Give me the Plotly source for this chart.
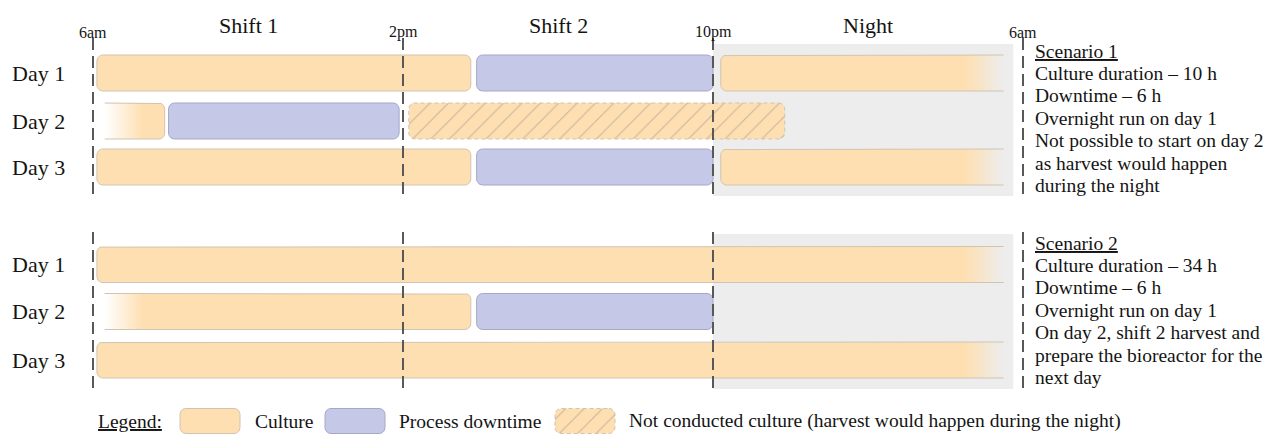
import numpy as np
import plotly.graph_objects as go

# ---------------- data (hours after 6am) ----------------
day_labels = ["Day 1", "Day 2", "Day 3"]
time_ticks = [0, 8, 16, 24]
time_tick_labels = ["6am", "2pm", "10pm", "6am"]
shift_names = ["Shift 1", "Shift 2", "Night"]
shift_centers = [4, 12, 20]
night_start = 16
night_end = 23.75

# Scenario 1 segments
s1_day = [1, 1, 1, 2, 2, 2, 3, 3, 3]
s1_kind = ["culture", "downtime", "culture", "culture", "downtime", "not", "culture", "downtime", "culture"]
s1_start = [0.1, 9.9, 16.2, 0.3, 1.95, 8.15, 0.1, 9.9, 16.2]
s1_end = [9.75, 16.0, 23.5, 1.85, 7.9, 17.85, 9.75, 16.0, 23.5]

# Scenario 2 segments
s2_day = [1, 2, 2, 3]
s2_kind = ["culture", "culture", "downtime", "culture"]
s2_start = [0.1, 0.3, 9.9, 0.1]
s2_end = [23.5, 9.75, 16.0, 23.5]

s1_notes = ["<u>Scenario 1</u>", "Culture duration \u2013 10 h", "Downtime \u2013 6 h",
            "Overnight run on day 1", "Not possible to start on day 2",
            "as harvest would happen", "during the night"]
s2_notes = ["<u>Scenario 2</u>", "Culture duration \u2013 34 h", "Downtime \u2013 6 h",
            "Overnight run on day 1", "On day 2, shift 2 harvest and",
            "prepare the bioreactor for the", "next day"]
legend_title = "<u>Legend:</u>"
legend_labels = ["Culture", "Process downtime",
                 "Not conducted culture (harvest would happen during the night)"]
legend_kinds = ["culture", "downtime", "not"]

# ---------------- styles / layout constants ----------------
s1_fade = [None, None, "right", "left", None, None, None, None, "right"]
s2_fade = ["right", "left", None, "right"]

W, H = 1279, 435
X0, PXH = 93.0, 38.75          # pixel of 6am, pixels per hour
FONT = "Liberation Serif"
BAR_H = 36
RAD = 6
FADE = 1.0
row_y = {1: [73, 121, 167], 2: [264.5, 311.5, 360]}
night_band = {1: (44, 196), 2: (234, 389)}
dash_span = {1: (38, 198), 2: (232, 392)}
notes_y0 = {1: 51, 2: 243}
NOTE_DY = 22.4
NOTE_X = 1033

CULT = "rgb(254,223,177)"
CULT_T = "rgba(254,223,177,0)"
CULT_EDGE = "rgb(208,196,178)"
DOWN = "rgb(197,200,230)"
DOWN_EDGE = "rgb(165,169,200)"
HATCH_FG = "rgb(200,182,156)"
NIGHT = "rgb(237,237,237)"
DASH = "rgb(88,88,88)"
TXT = "rgb(20,20,20)"

fig = go.Figure()


def arc(cx, cy, rx, ry, a0, a1, n=8):
    t = np.radians(np.linspace(a0, a1, n))
    return list(cx + rx * np.cos(t)), list(cy + ry * np.sin(t))


def rounded(x0, x1, yc, h, rx, ry, fade):
    yt, yb = yc - h / 2, yc + h / 2
    xs, ys = [], []

    def add(p):
        xs.extend(p[0]); ys.extend(p[1])
    if fade == "right":
        add(([x1], [yt]))
        add(arc(x0 + rx, yt + ry, rx, ry, 270, 180))
        add(arc(x0 + rx, yb - ry, rx, ry, 180, 90))
        add(([x1], [yb]))
    elif fade == "left":
        add(([x0], [yt]))
        add(arc(x1 - rx, yt + ry, rx, ry, 270, 360))
        add(arc(x1 - rx, yb - ry, rx, ry, 0, 90))
        add(([x0], [yb]))
    else:
        add(arc(x1 - rx, yt + ry, rx, ry, 270, 360))
        add(arc(x1 - rx, yb - ry, rx, ry, 0, 90))
        add(arc(x0 + rx, yb - ry, rx, ry, 90, 180))
        add(arc(x0 + rx, yt + ry, rx, ry, 180, 270))
        xs.append(xs[0]); ys.append(ys[0])
    return xs, ys


def bar_trace(x0, x1, yc, kind, fade, xaxis="x", rx=None, h=BAR_H):
    if rx is None:
        rx = RAD / PXH
    xs, ys = rounded(x0, x1, yc, h, rx, RAD, fade)
    kw = dict(x=xs, y=ys, mode="lines", fill="toself", hoverinfo="skip",
              showlegend=False, xaxis=xaxis, yaxis="y")
    if kind == "culture":
        kw["line"] = dict(color=CULT_EDGE, width=1)
        if fade == "right":
            p = max(0.0, (x1 - FADE - x0) / (x1 - x0))
            kw["fillgradient"] = dict(type="horizontal", start=x0, stop=x1,
                                      colorscale=[[0, CULT], [p, CULT], [1, CULT_T]])
        elif fade == "left":
            q = min(1.0, FADE / (x1 - x0))
            kw["fillgradient"] = dict(type="horizontal", start=x0, stop=x1,
                                      colorscale=[[0, CULT_T], [q, CULT], [1, CULT]])
        else:
            kw["fillcolor"] = CULT
    elif kind == "downtime":
        kw["line"] = dict(color=DOWN_EDGE, width=1)
        kw["fillcolor"] = DOWN
    else:
        kw["line"] = dict(color=CULT_EDGE, width=1, dash="4px,3px")
        kw["fillpattern"] = dict(shape="/", bgcolor=CULT, fgcolor=HATCH_FG,
                                 size=13, solidity=0.08, fillmode="replace")
        kw["fillcolor"] = CULT
    return go.Scatter(**kw)


shapes = []
annotations = []

for sc, (days, kinds, starts, ends, fades) in {
        1: (s1_day, s1_kind, s1_start, s1_end, s1_fade),
        2: (s2_day, s2_kind, s2_start, s2_end, s2_fade)}.items():
    yb0, yb1 = night_band[sc]
    shapes.append(dict(type="rect", xref="x", yref="y", x0=night_start, x1=night_end,
                       y0=yb0, y1=yb1, fillcolor=NIGHT, line=dict(width=0), layer="below"))
    for d, k, s, e, f in zip(days, kinds, starts, ends, fades):
        fig.add_trace(bar_trace(s, e, row_y[sc][d - 1], k, f))
    d0, d1 = dash_span[sc]
    for t in time_ticks:
        shapes.append(dict(type="line", xref="x", yref="y", x0=t, x1=t, y0=d0, y1=d1,
                           line=dict(color=DASH, width=2, dash="12px,6px"), layer="above"))
    for i, lab in enumerate(day_labels):
        annotations.append(dict(x=10 / W, xref="paper", xanchor="left", y=row_y[sc][i],
                                yref="y", yanchor="middle", text=lab, showarrow=False,
                                font=dict(family=FONT, size=22, color=TXT)))
    notes = s1_notes if sc == 1 else s2_notes
    for i, line in enumerate(notes):
        annotations.append(dict(x=NOTE_X / W, xref="paper", xanchor="left",
                                y=notes_y0[sc] + i * NOTE_DY, yref="y", yanchor="middle",
                                text=line, showarrow=False,
                                font=dict(family=FONT, size=19.5, color=TXT)))

for t, lab in zip(time_ticks, time_tick_labels):
    annotations.append(dict(x=t, xref="x", y=32, yref="y", text=lab, showarrow=False,
                            xanchor="center", yanchor="middle",
                            font=dict(family=FONT, size=16, color=TXT)))
for c, lab in zip(shift_centers, shift_names):
    annotations.append(dict(x=c, xref="x", y=25, yref="y", text=lab, showarrow=False,
                            xanchor="center", yanchor="middle",
                            font=dict(family=FONT, size=22, color=TXT)))

# legend (pixel positioned on an overlay axis)
LEG_Y = 421
leg_box_x = [180, 325, 555]
leg_text_x = [253, 397, 627]
annotations.append(dict(x=96 / W, xref="paper", xanchor="left", y=LEG_Y, yref="y",
                        yanchor="middle", text=legend_title, showarrow=False,
                        font=dict(family=FONT, size=19.5, color=TXT)))
for bx, tx, lab, k in zip(leg_box_x, leg_text_x, legend_labels, legend_kinds):
    fig.add_trace(bar_trace(bx, bx + 60, LEG_Y, k, None, xaxis="x2", rx=RAD, h=25))
    annotations.append(dict(x=tx / W, xref="paper", xanchor="left", y=LEG_Y, yref="y",
                            yanchor="middle", text=lab, showarrow=False,
                            font=dict(family=FONT, size=19.5, color=TXT)))

fig.update_layout(
    width=W, height=H, autosize=False,
    margin=dict(l=0, r=0, t=0, b=0, pad=0),
    paper_bgcolor="white", plot_bgcolor="white",
    xaxis=dict(range=[-X0 / PXH, (W - X0) / PXH], visible=False, fixedrange=True),
    xaxis2=dict(range=[0, W], visible=False, overlaying="x", fixedrange=True),
    yaxis=dict(range=[H, 0], visible=False, fixedrange=True),
    shapes=shapes, annotations=annotations, showlegend=False,
)

fig.write_html("out.html", config={"displayModeBar": False},
               post_script="document.body.style.margin='0';")
